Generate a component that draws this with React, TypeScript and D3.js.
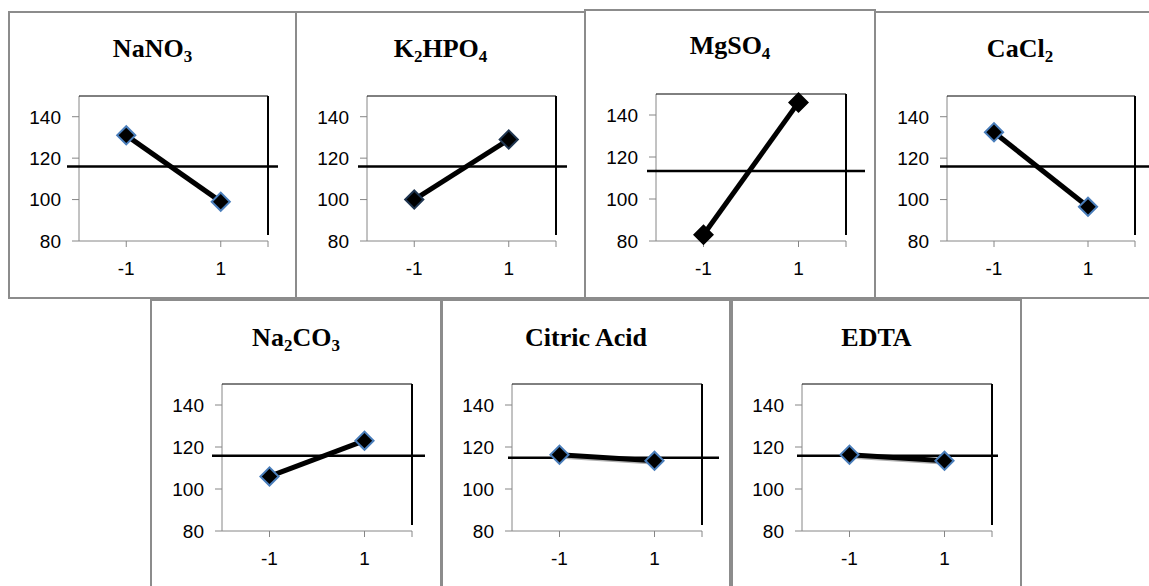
import React from "react";
import * as d3 from "d3";

// ---- data ----
const levels = ["-1", "1"];
const factorNames = ["NaNO_3", "K_2HPO_4", "MgSO_4", "CaCl_2", "Na_2CO_3", "Citric Acid", "EDTA"];
const lowLevelMeans = [131, 100, 83, 132.5, 106, 116.3, 116.3];
const highLevelMeans = [99, 129, 146, 96.5, 123, 113.4, 113.4];
const grandMeans = [116, 116, 113.3, 116, 115.8, 114.9, 115.8];
const yTickValues = [80, 100, 120, 140];
const yDomain: [number, number] = [80, 150];

// ---- layout (positions only) ----
const layout = [
  { x: 9, y: 12, w: 287, h: 286, pl: 79, pt: 96, pr: 268, pb: 241, ml: 67, mr: 278, ty: 57, mk: "#4a7ebb", shadow: false },
  { x: 296, y: 12, w: 289, h: 286, pl: 367, pt: 96, pr: 556, pb: 241, ml: 358, mr: 567, ty: 57, mk: "#1f3550", shadow: false },
  { x: 585, y: 10, w: 290, h: 288, pl: 656, pt: 94, pr: 846, pb: 241, ml: 647, mr: 865, ty: 54, mk: "#000000", shadow: false },
  { x: 875, y: 12, w: 290, h: 286, pl: 947, pt: 96, pr: 1135, pb: 241, ml: 940, mr: 1160, ty: 57, mk: "#4a7ebb", shadow: false },
  { x: 151, y: 300, w: 290, h: 300, pl: 222, pt: 384, pr: 412, pb: 531, ml: 212, mr: 425, ty: 346, mk: "#4a7ebb", shadow: false },
  { x: 442, y: 300, w: 288, h: 300, pl: 512, pt: 384, pr: 702, pb: 531, ml: 508, mr: 719, ty: 346, mk: "#4a7ebb", shadow: true },
  { x: 732, y: 300, w: 289, h: 300, pl: 802, pt: 384, pr: 992, pb: 531, ml: 797, mr: 998, ty: 346, mk: "#4a7ebb", shadow: true },
];

const AXIS_GRAY = "#868686";
const BORDER_GRAY = "#8c8c8c";
const TICK_FONT = "'Liberation Sans', Arial, sans-serif";
const TITLE_FONT = "'Liberation Serif', 'Times New Roman', serif";

function parseTitle(s: string) {
  const parts: { t: string; sub: boolean }[] = [];
  const re = /_(\d)/g;
  let last = 0;
  let m: RegExpExecArray | null;
  while ((m = re.exec(s)) !== null) {
    if (m.index > last) parts.push({ t: s.slice(last, m.index), sub: false });
    parts.push({ t: m[1], sub: true });
    last = m.index + m[0].length;
  }
  if (last < s.length) parts.push({ t: s.slice(last), sub: false });
  return parts;
}

const diamond = d3.symbol().type(d3.symbolSquare).size(165)();

function Panel({ i }: { i: number }) {
  const L = layout[i];
  const x = d3.scalePoint<string>().domain(levels).range([L.pl, L.pr]).padding(0.5);
  const y = d3.scaleLinear().domain(yDomain).range([L.pb, L.pt]);
  const vals = [lowLevelMeans[i], highLevelMeans[i]];
  const pts = levels.map((lv, k) => [x(lv) as number, y(vals[k])] as [number, number]);
  const line = d3.line()(pts) || "";
  const shadowLine = d3.line()(pts.map(([a, b]) => [a + 2, b + 2] as [number, number])) || "";
  const title = parseTitle(factorNames[i]);
  const cx = L.x + L.w / 2;
  const xTicks = [...levels.map((lv) => x(lv) as number), L.pr];

  return (
    <g>
      <rect x={L.x} y={L.y} width={L.w} height={L.h} fill="#fff" stroke={BORDER_GRAY} strokeWidth={2} />
      <text x={cx} y={L.ty} textAnchor="middle" fontFamily={TITLE_FONT} fontWeight="bold" fontSize={26} fill="#000">
        {title.map((p, k) =>
          p.sub ? (
            <tspan key={k} fontSize={17} dy={5}>{p.t}</tspan>
          ) : (
            <tspan key={k} dy={k > 0 && title[k - 1].sub ? -5 : 0}>{p.t}</tspan>
          )
        )}
      </text>
      {/* y axis */}
      <line x1={L.pl} x2={L.pl} y1={L.pt} y2={L.pb} stroke={AXIS_GRAY} strokeWidth={1} />
      {yTickValues.map((v) => (
        <g key={v}>
          <line x1={L.pl - 7} x2={L.pl} y1={y(v)} y2={y(v)} stroke={AXIS_GRAY} strokeWidth={1} />
          <text x={L.pl - 18} y={y(v)} dy="0.36em" textAnchor="end" fontFamily={TICK_FONT} fontSize={19} fill="#000">
            {v}
          </text>
        </g>
      ))}
      {/* x axis */}
      <line x1={L.pl} x2={L.pr} y1={L.pb} y2={L.pb} stroke={AXIS_GRAY} strokeWidth={1} />
      {xTicks.map((tx, k) => (
        <line key={k} x1={tx} x2={tx} y1={L.pb} y2={L.pb + 6} stroke={AXIS_GRAY} strokeWidth={1} />
      ))}
      {levels.map((lv) => (
        <text key={lv} x={x(lv)} y={L.pb + 34} textAnchor="middle" fontFamily={TICK_FONT} fontSize={19} fill="#000">
          {lv}
        </text>
      ))}
      {/* plot-area top / right border */}
      <line x1={L.pl} x2={L.pr} y1={L.pt} y2={L.pt} stroke="#000" strokeWidth={1} />
      <line x1={L.pr} x2={L.pr} y1={L.pt} y2={L.pb - 6} stroke="#000" strokeWidth={2} />
      {/* grand mean line */}
      <line x1={L.ml} x2={L.mr} y1={y(grandMeans[i])} y2={y(grandMeans[i])} stroke="#000" strokeWidth={2.5} />
      {/* effect line */}
      {L.shadow && <path d={shadowLine} fill="none" stroke="#b0b0b0" strokeWidth={4} />}
      <path d={line} fill="none" stroke="#000" strokeWidth={5} />
      {pts.map(([px, py], k) => (
        <path key={k} d={diamond} transform={`translate(${px},${py}) rotate(45)`} fill="#000" stroke={L.mk} strokeWidth={2} />
      ))}
    </g>
  );
}

export default function App() {
  return (
    <svg
      width={1149}
      height={586}
      style={{ position: "fixed", left: 0, top: 0, background: "#fff" }}
    >
      <rect x={0} y={0} width={1149} height={586} fill="#fff" />
      {factorNames.map((_, i) => (
        <Panel key={i} i={i} />
      ))}
    </svg>
  );
}
